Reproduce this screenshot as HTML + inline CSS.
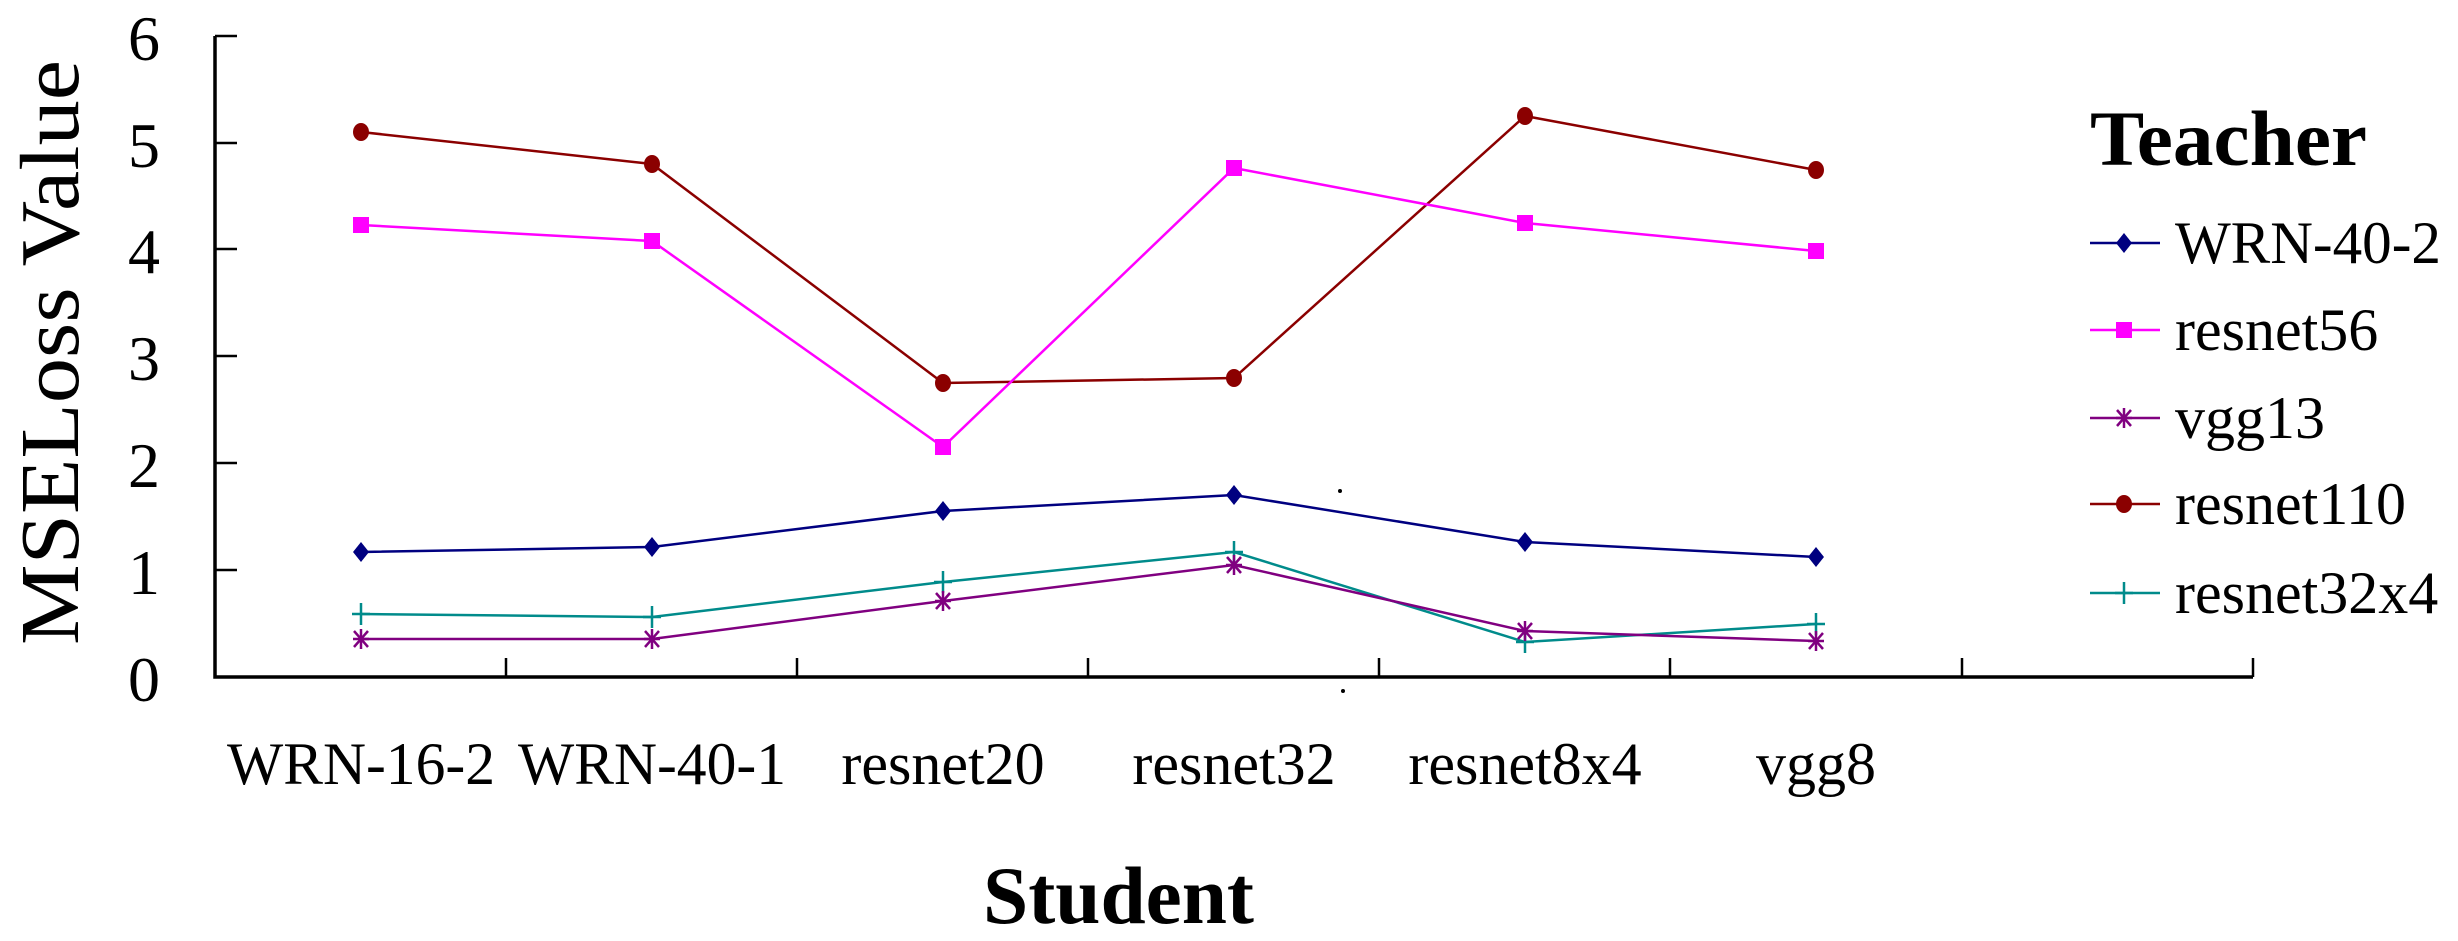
<!DOCTYPE html>
<html><head><meta charset="utf-8"><style>html,body{margin:0;padding:0;background:#fff}svg{display:block}svg text{font-family:"Liberation Serif","Times New Roman",Times,serif}</style></head>
<body>
<svg width="2458" height="941" viewBox="0 0 2458 941" xmlns="http://www.w3.org/2000/svg">
<defs>
<g id="dia"><path d="M0,-10 L8,0 L0,10 L-8,0 Z" fill="#000080"/></g>
<g id="sq"><rect x="-8" y="-8" width="16" height="16" fill="#ff00ff"/></g>
<g id="ast" stroke="#800080" stroke-width="2.5"><line x1="-8" y1="0" x2="8" y2="0"/><line x1="0" y1="-10" x2="0" y2="10"/><line x1="-7" y1="-8" x2="7" y2="8"/><line x1="-7" y1="8" x2="7" y2="-8"/></g>
<g id="cir"><ellipse rx="8" ry="9" fill="#8b0000"/></g>
<g id="plus" stroke="#008b8b" stroke-width="2.5"><line x1="-9" y1="0" x2="9" y2="0"/><line x1="0" y1="-11" x2="0" y2="11"/></g>
</defs>
<g stroke="#000" fill="none">
<path d="M215,36 L215,677 L2253,677" stroke-width="3.5"/>
<g stroke-width="2.5">
<line x1="215" y1="36" x2="237" y2="36"/>
<line x1="215" y1="143" x2="237" y2="143"/>
<line x1="215" y1="249" x2="237" y2="249"/>
<line x1="215" y1="356" x2="237" y2="356"/>
<line x1="215" y1="463" x2="237" y2="463"/>
<line x1="215" y1="570" x2="237" y2="570"/>
<line x1="506" y1="677" x2="506" y2="658"/>
<line x1="797" y1="677" x2="797" y2="658"/>
<line x1="1088" y1="677" x2="1088" y2="658"/>
<line x1="1379" y1="677" x2="1379" y2="658"/>
<line x1="1670" y1="677" x2="1670" y2="658"/>
<line x1="1962" y1="677" x2="1962" y2="658"/>
<line x1="2253" y1="677" x2="2253" y2="658"/>
</g></g>
<g font-size="64" text-anchor="end" fill="#000">
<text x="160" y="60">6</text><text x="160" y="167">5</text><text x="160" y="273">4</text>
<text x="160" y="380">3</text><text x="160" y="487">2</text><text x="160" y="594">1</text><text x="160" y="701">0</text>
</g>
<text transform="translate(78,645) rotate(-90)" font-size="84" textLength="585" lengthAdjust="spacingAndGlyphs">MSELoss Value</text>
<g font-size="60" text-anchor="middle">
<text x="361" y="784" textLength="268" lengthAdjust="spacingAndGlyphs">WRN-16-2</text>
<text x="652" y="784" textLength="268" lengthAdjust="spacingAndGlyphs">WRN-40-1</text>
<text x="943" y="784">resnet20</text>
<text x="1234" y="784">resnet32</text>
<text x="1525" y="784">resnet8x4</text>
<text x="1816" y="784">vgg8</text>
</g>
<text x="983" y="923" font-size="82" font-weight="bold" textLength="271" lengthAdjust="spacingAndGlyphs">Student</text>
<text x="2090" y="165" font-size="78" font-weight="bold" textLength="277" lengthAdjust="spacingAndGlyphs">Teacher</text>
<circle cx="1340" cy="491" r="2" fill="#000"/><circle cx="1343" cy="691" r="2" fill="#000"/>
<g fill="none" stroke-width="2.5">
<polyline stroke="#8b0000" points="361,132 652,164 943,383 1234,378 1525,116 1816,170"/>
<polyline stroke="#ff00ff" points="361,225 652,241 943,447 1234,168 1525,223 1816,251"/>
<polyline stroke="#000080" points="361,552 652,547 943,511 1234,495 1525,542 1816,557"/>
<polyline stroke="#008b8b" points="361,614 652,617 943,582 1234,552 1525,642 1816,624"/>
<polyline stroke="#800080" points="361,639 652,639 943,601 1234,565 1525,631 1816,641"/>
</g>
<g>
<use href="#cir" x="361" y="132"/><use href="#cir" x="652" y="164"/><use href="#cir" x="943" y="383"/><use href="#cir" x="1234" y="378"/><use href="#cir" x="1525" y="116"/><use href="#cir" x="1816" y="170"/>
<use href="#sq" x="361" y="225"/><use href="#sq" x="652" y="241"/><use href="#sq" x="943" y="447"/><use href="#sq" x="1234" y="168"/><use href="#sq" x="1525" y="223"/><use href="#sq" x="1816" y="251"/>
<use href="#dia" x="361" y="552"/><use href="#dia" x="652" y="547"/><use href="#dia" x="943" y="511"/><use href="#dia" x="1234" y="495"/><use href="#dia" x="1525" y="542"/><use href="#dia" x="1816" y="557"/>
<use href="#plus" x="361" y="614"/><use href="#plus" x="652" y="617"/><use href="#plus" x="943" y="582"/><use href="#plus" x="1234" y="552"/><use href="#plus" x="1525" y="642"/><use href="#plus" x="1816" y="624"/>
<use href="#ast" x="361" y="639"/><use href="#ast" x="652" y="639"/><use href="#ast" x="943" y="601"/><use href="#ast" x="1234" y="565"/><use href="#ast" x="1525" y="631"/><use href="#ast" x="1816" y="641"/>
</g>
<g stroke-width="2.5">
<line x1="2090" y1="243" x2="2160" y2="243" stroke="#000080"/><use href="#dia" x="2124" y="243"/>
<line x1="2090" y1="330" x2="2160" y2="330" stroke="#ff00ff"/><use href="#sq" x="2124" y="330"/>
<line x1="2090" y1="418" x2="2160" y2="418" stroke="#800080"/><use href="#ast" x="2124" y="418"/>
<line x1="2090" y1="504" x2="2160" y2="504" stroke="#8b0000"/><use href="#cir" x="2124" y="504"/>
<line x1="2090" y1="593" x2="2160" y2="593" stroke="#008b8b"/><use href="#plus" x="2124" y="593"/>
</g>
<g font-size="60">
<text x="2175" y="263" textLength="266" lengthAdjust="spacingAndGlyphs">WRN-40-2</text>
<text x="2175" y="350">resnet56</text>
<text x="2175" y="438">vgg13</text>
<text x="2175" y="524">resnet110</text>
<text x="2175" y="613">resnet32x4</text>
</g>
</svg>
</body></html>
